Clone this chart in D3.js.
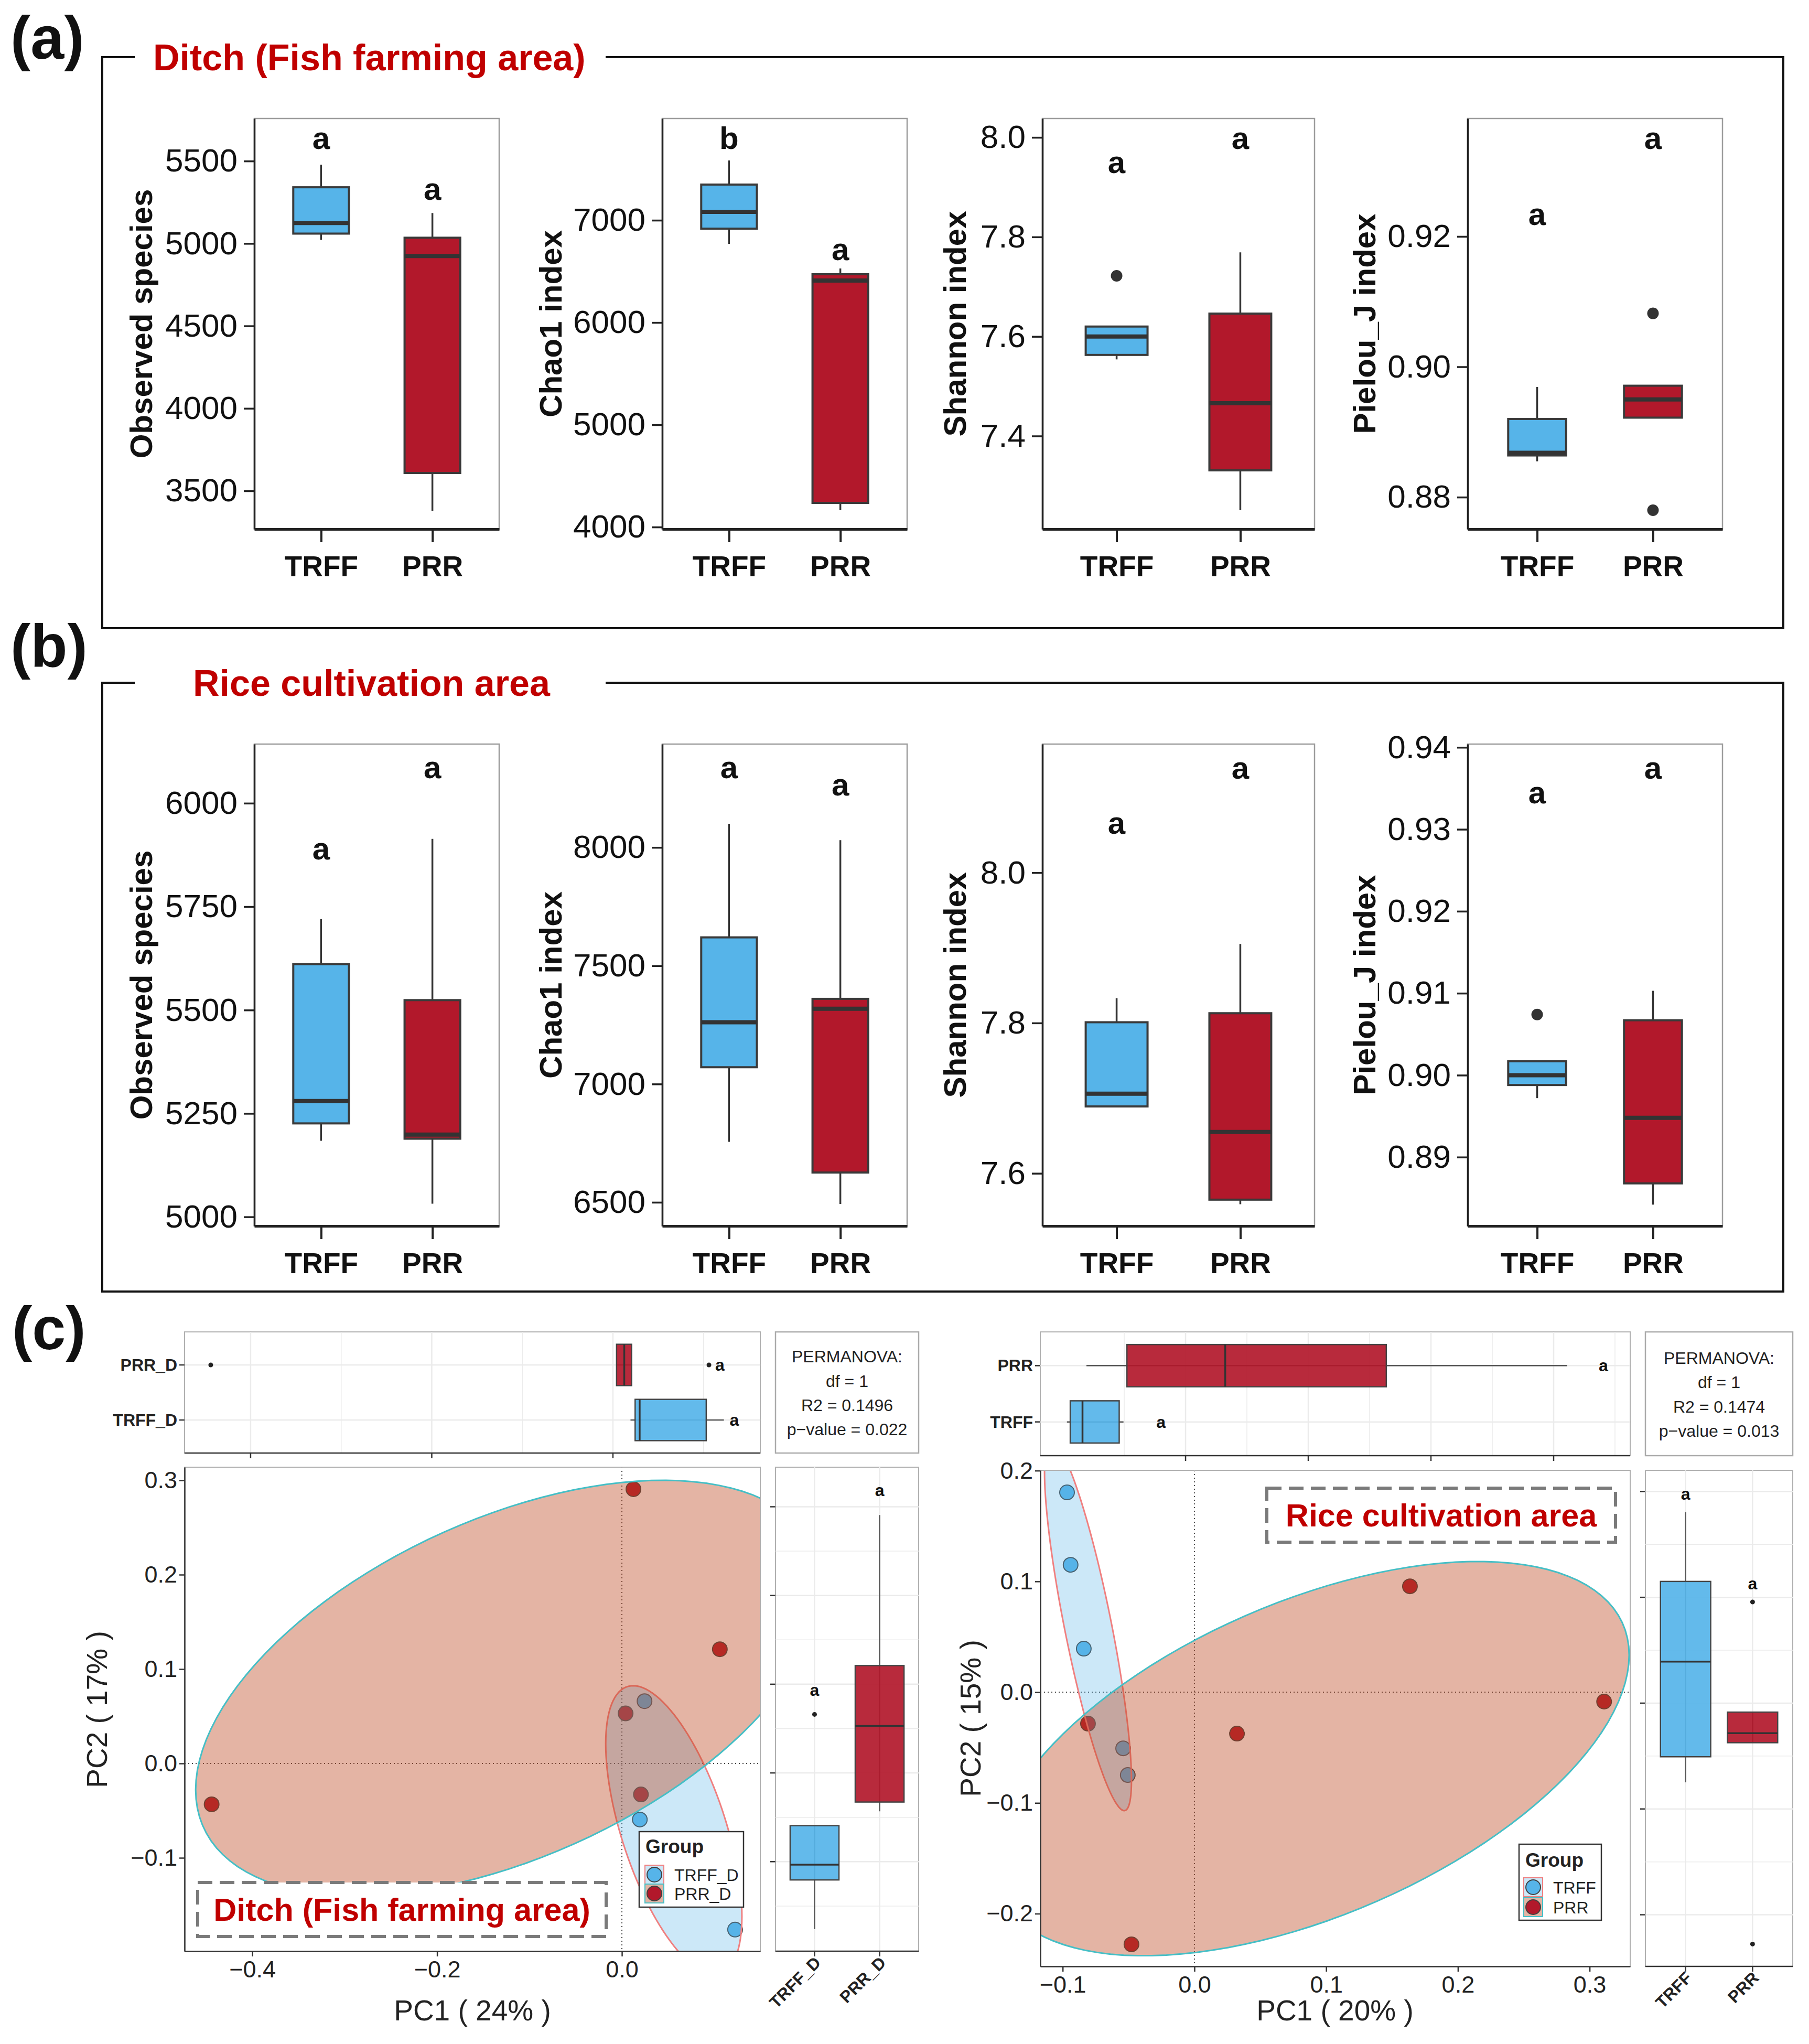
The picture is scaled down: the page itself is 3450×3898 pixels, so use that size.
<!DOCTYPE html>
<html>
<head>
<meta charset="utf-8">
<script src="https://cdn.jsdelivr.net/npm/d3@7"></script>
<style>
  body { margin: 0; background: #fff; }
</style>
</head>
<body>
<div id="chart"></div>
<script>
const groups = ["TRFF", "PRR"];
const alphaTitles = ["Observed species", "Chao1 index", "Shannon index", "Pielou_J index"];
const alphaFormats = ["d", "d", ".1f", ".2f"];

// [lower whisker, Q1, median, Q3, upper whisker]
const ditchTRFF = [[5022, 5060, 5124, 5341, 5478], [6769, 6918, 7082, 7349, 7585], [7.554, 7.563, 7.600, 7.620, 7.620], [0.8855, 0.8864, 0.8868, 0.8920, 0.8969]];
const ditchPRR  = [[3379, 3608, 4924, 5035, 5185], [4164, 4236, 6410, 6472, 6528], [7.251, 7.331, 7.466, 7.646, 7.769], [0.8922, 0.8922, 0.8950, 0.8971, 0.8971]];
const ditchOutTRFF = [[], [], [7.722], []];
const ditchOutPRR  = [[], [], [], [0.9082, 0.8780]];
const ditchLetters = [["a", "a"], ["b", "a"], ["a", "a"], ["a", "a"]];
const ditchLetterY = [[5573, 5264], [7697, 6610], [7.928, 7.977], [0.9218, 0.9334]];
const ditchTicks = [[3500, 4000, 4500, 5000, 5500], [4000, 5000, 6000, 7000], [7.4, 7.6, 7.8, 8.0], [0.88, 0.90, 0.92]];
const ditchDomains = [[3268, 5758], [3980, 7995], [7.213, 8.038], [0.8751, 0.9381]];

const riceTRFF = [[5184, 5226, 5280, 5611, 5720], [6756, 7071, 7261, 7620, 8100], [7.689, 7.689, 7.706, 7.801, 7.833], [0.8972, 0.8988, 0.9000, 0.9017, 0.9017]];
const ricePRR  = [[5032, 5189, 5199, 5524, 5914], [6493, 6626, 7318, 7360, 8031], [7.559, 7.565, 7.655, 7.813, 7.905], [0.8842, 0.8868, 0.8948, 0.9067, 0.9103]];
const riceOutTRFF = [[], [], [], [0.9074]];
const riceOutPRR  = [[], [], [], []];
const riceLetters = [["a", "a"], ["a", "a"], ["a", "a"], ["a", "a"]];
const riceLetterY = [[5864, 6061], [8293, 8220], [8.052, 8.125], [0.9332, 0.9362]];
const riceTicks = [[5000, 5250, 5500, 5750, 6000], [6500, 7000, 7500, 8000], [7.6, 7.8, 8.0], [0.89, 0.90, 0.91, 0.92, 0.93, 0.94]];
const riceDomains = [[4978, 6143], [6400, 8437], [7.530, 8.171], [0.8816, 0.9404]];

// ==== Data: PCA scores ====
const ditchTRFF_pc1 = [0.0245, 0.0194, 0.0295, 0.1030, 0.1225];
const ditchTRFF_pc2 = [0.0660, -0.0594, -0.1034, -0.1206, -0.1760];
const ditchPRR_pc1  = [0.0125, 0.1060, 0.0040, 0.0206, -0.4440];
const ditchPRR_pc2  = [0.2906, 0.1210, 0.0530, -0.0328, -0.0433];
const riceTRFF_pc1 = [-0.0967, -0.0940, -0.0840, -0.0541, -0.0506];
const riceTRFF_pc2 = [0.1804, 0.1150, 0.0393, -0.0507, -0.0748];
const ricePRR_pc1  = [0.1636, 0.3110, 0.0323, -0.0808, -0.0478];
const ricePRR_pc2  = [0.0956, -0.0085, -0.0374, -0.0284, -0.2277];

// confidence ellipses: centre, x/y half extents, correlation
const ditchEllipses = [{ cx: 0.0562, cy: -0.0706, rx: 0.0737, ry: 0.153, r: -0.5976 },
                       { cx: -0.122, cy: 0.080, rx: 0.3393, ry: 0.220, r: 0.4904 }];
const riceEllipses  = [{ cx: -0.0808, cy: 0.0597, rx: 0.0330, ry: 0.1667, r: -0.8343 },
                       { cx: 0.0884, cy: -0.060, rx: 0.2416, ry: 0.178, r: 0.525 }];

const ditchPerm = ["PERMANOVA:", "df = 1", "R2 = 0.1496", "p\u2212value = 0.022"];
const ricePerm  = ["PERMANOVA:", "df = 1", "R2 = 0.1474", "p\u2212value = 0.013"];

// ==== Setup ====
const FONT = '"Liberation Sans", Arial, Helvetica, sans-serif';
const W = 3450, H = 3898;
const blue = "#56B4E9", red = "#B2182B";
const titleRed = "#C00000";

const svg = d3.select("#chart").append("svg")
  .attr("width", W).attr("height", H)
  .attr("font-family", FONT)
  .style("background", "#fff");

function txt(g, x, y, s, size, opts = {}) {
  return g.append("text").attr("x", x).attr("y", y).text(s)
    .attr("font-size", size)
    .attr("font-weight", opts.bold ? "bold" : "normal")
    .attr("text-anchor", opts.anchor || "start")
    .attr("fill", opts.fill || "#111");
}

// ==== Panels (a) and (b): boxplots ====
const alphaCols = [{ x0: 485, x1: 952, off: 195 }, { x0: 1263, x1: 1730, off: 192 },
                   { x0: 1988, x1: 2507, off: 146 }, { x0: 2799, x1: 3285, off: 176 }];
const alphaRows = [{ y0: 226, y1: 1009 }, { y0: 1419, y1: 2338 }];

function drawAlpha(col, row, dom, ticks, fmt, stT, stP, outT, outP, letters, letY) {
  const c = alphaCols[col], rw = alphaRows[row];
  const g = svg.append("g");
  const x = d3.scaleLinear().domain([0.4, 2.6]).range([c.x0, c.x1]);
  const y = d3.scaleLinear().domain(dom).range([rw.y1, rw.y0]);

  g.append("rect").attr("x", c.x0).attr("y", rw.y0)
    .attr("width", c.x1 - c.x0).attr("height", rw.y1 - rw.y0)
    .attr("fill", "none").attr("stroke", "#9c9c9c").attr("stroke-width", 2.5);

  const hw = x(1.25) - x(1);
  [stT, stP].forEach((s, i) => {
    const cx = x(i + 1);
    g.append("line").attr("x1", cx).attr("x2", cx)
      .attr("y1", y(s[0])).attr("y2", y(s[4]))
      .attr("stroke", "#333").attr("stroke-width", 3.5);
    g.append("rect").attr("x", cx - hw).attr("width", 2 * hw)
      .attr("y", y(s[3])).attr("height", Math.max(1, y(s[1]) - y(s[3])))
      .attr("fill", i ? red : blue).attr("stroke", "#3a3a3a").attr("stroke-width", 4);
    g.append("line").attr("x1", cx - hw).attr("x2", cx + hw)
      .attr("y1", y(s[2])).attr("y2", y(s[2]))
      .attr("stroke", "#333").attr("stroke-width", 8);
    [outT, outP][i].forEach(v => {
      g.append("circle").attr("cx", cx).attr("cy", y(v)).attr("r", 11).attr("fill", "#333");
    });
    txt(g, cx, y(letY[i]), letters[i], 60, { bold: true, anchor: "middle" });
  });

  const ya = g.append("g").attr("transform", `translate(${c.x0},0)`)
    .call(d3.axisLeft(y).tickValues(ticks).tickFormat(d3.format(fmt))
      .tickSize(20).tickPadding(12).tickSizeOuter(0));
  ya.attr("font-size", 62).attr("font-family", FONT);
  ya.select(".domain").attr("stroke", "#222").attr("stroke-width", 3.5);
  ya.selectAll(".tick line").attr("stroke", "#222").attr("stroke-width", 3.5);
  ya.selectAll(".tick text").attr("fill", "#111");

  const xa = g.append("g").attr("transform", `translate(0,${rw.y1})`)
    .call(d3.axisBottom(x).tickValues([1, 2]).tickFormat((d, i) => groups[i])
      .tickSize(25).tickPadding(26).tickSizeOuter(0));
  xa.attr("font-size", 55).attr("font-family", FONT).attr("font-weight", "bold");
  xa.select(".domain").attr("stroke", "#222").attr("stroke-width", 5);
  xa.selectAll(".tick line").attr("stroke", "#222").attr("stroke-width", 4);
  xa.selectAll(".tick text").attr("fill", "#111");

  const ty = (rw.y0 + rw.y1) / 2, tx = c.x0 - c.off;
  txt(g, 0, 0, alphaTitles[col], 60, { bold: true, anchor: "middle" })
    .attr("transform", `translate(${tx},${ty}) rotate(-90)`);
}

function frame(y0, y1, title, tx) {
  svg.append("path")
    .attr("d", `M257,${y0} H195 V${y1} H3401 V${y0} H1155`)
    .attr("fill", "none").attr("stroke", "#111").attr("stroke-width", 4);
  txt(svg, tx, y0 + 25, title, 70, { bold: true, fill: titleRed });
}

frame(109, 1198, "Ditch (Fish farming area)", 292);
frame(1302, 2463, "Rice cultivation area", 368);
txt(svg, 20, 112, "(a)", 115, { bold: true });
txt(svg, 20, 1272, "(b)", 115, { bold: true });
txt(svg, 23, 2573, "(c)", 115, { bold: true });

for (let k = 0; k < 4; k++) {
  drawAlpha(k, 0, ditchDomains[k], ditchTicks[k], alphaFormats[k], ditchTRFF[k], ditchPRR[k],
    ditchOutTRFF[k], ditchOutPRR[k], ditchLetters[k], ditchLetterY[k]);
  drawAlpha(k, 1, riceDomains[k], riceTicks[k], alphaFormats[k], riceTRFF[k], ricePRR[k],
    riceOutTRFF[k], riceOutPRR[k], riceLetters[k], riceLetterY[k]);
}

// ==== Panel (c): PCA with marginal boxplots ====
function boxStats(v) {
  const s = v.slice().sort(d3.ascending);
  const q1 = d3.quantile(s, 0.25), med = d3.quantile(s, 0.5), q3 = d3.quantile(s, 0.75);
  const lo = q1 - 1.5 * (q3 - q1), hi = q3 + 1.5 * (q3 - q1);
  const inside = s.filter(d => d >= lo && d <= hi);
  return { q1, med, q3, wlo: d3.min(inside), whi: d3.max(inside), out: s.filter(d => d < lo || d > hi) };
}

function minorTicks(ticks, dom) {
  const st = ticks[1] - ticks[0];
  return d3.range(ticks[0] - st * 2.5, dom[1], st).filter(v => v > dom[0] && v < dom[1]);
}

function ellipsePts(e) {
  const s = Math.sqrt(1 - e.r * e.r);
  return d3.range(0, 361, 3).map(a => {
    const t = a * Math.PI / 180;
    return [e.cx + e.rx * Math.cos(t), e.cy + e.ry * (e.r * Math.cos(t) + s * Math.sin(t))];
  });
}

let clipId = 0;
function drawPCA(p) {
  const m = p.main, tp = p.top, rp = p.right;
  const x = d3.scaleLinear().domain(p.xDom).range([m.x0, m.x1]);
  const y = d3.scaleLinear().domain(p.yDom).range([m.y1, m.y0]);
  const xT = d3.scaleLinear().domain(p.xTopDom).range([m.x0, m.x1]);
  const yR = d3.scaleLinear().domain(p.yRightDom).range([m.y1, m.y0]);
  const cT = d3.scaleLinear().domain([0.4, 2.6]).range([tp.y1, tp.y0]);
  const cR = d3.scaleLinear().domain([0.4, 2.6]).range([rp.x0, rp.x1]);
  const g = svg.append("g");
  const grid = "#ebebeb";

  // --- top marginal panel (PC1)
  g.append("rect").attr("x", m.x0).attr("y", tp.y0).attr("width", m.x1 - m.x0).attr("height", tp.y1 - tp.y0)
    .attr("fill", "#fff").attr("stroke", "#b0b0b0").attr("stroke-width", 2);
  minorTicks(p.topTicks, p.xTopDom).forEach(v => {
    g.append("line").attr("x1", xT(v)).attr("x2", xT(v)).attr("y1", tp.y0).attr("y2", tp.y1)
      .attr("stroke", grid).attr("stroke-width", 1.5);
  });
  p.topTicks.concat([1, 2].map(v => null)).forEach(v => {
    if (v === null) return;
    g.append("line").attr("x1", xT(v)).attr("x2", xT(v)).attr("y1", tp.y0).attr("y2", tp.y1)
      .attr("stroke", grid).attr("stroke-width", 2.5);
  });
  [1, 2].forEach(v => {
    g.append("line").attr("x1", m.x0).attr("x2", m.x1).attr("y1", cT(v)).attr("y2", cT(v))
      .attr("stroke", grid).attr("stroke-width", 2.5);
  });

  // --- right marginal panel (PC2)
  g.append("rect").attr("x", rp.x0).attr("y", m.y0).attr("width", rp.x1 - rp.x0).attr("height", m.y1 - m.y0)
    .attr("fill", "#fff").attr("stroke", "#b0b0b0").attr("stroke-width", 2);
  minorTicks(p.rightTicks, p.yRightDom).forEach(v => {
    g.append("line").attr("x1", rp.x0).attr("x2", rp.x1).attr("y1", yR(v)).attr("y2", yR(v))
      .attr("stroke", grid).attr("stroke-width", 1.5);
  });
  p.rightTicks.forEach(v => {
    g.append("line").attr("x1", rp.x0).attr("x2", rp.x1).attr("y1", yR(v)).attr("y2", yR(v))
      .attr("stroke", grid).attr("stroke-width", 2.5);
  });
  [1, 2].forEach(v => {
    g.append("line").attr("x1", cR(v)).attr("x2", cR(v)).attr("y1", m.y0).attr("y2", m.y1)
      .attr("stroke", grid).attr("stroke-width", 2.5);
  });

  p.groups.forEach((gr, i) => {
    // horizontal box on PC1
    const sx = boxStats(gr.pc1), cy = cT(i + 1), hh = cT(1) - cT(1.375);
    g.append("line").attr("x1", xT(sx.wlo)).attr("x2", xT(sx.whi)).attr("y1", cy).attr("y2", cy)
      .attr("stroke", "#555").attr("stroke-width", 2.5);
    g.append("rect").attr("x", xT(sx.q1)).attr("width", xT(sx.q3) - xT(sx.q1))
      .attr("y", cy - hh).attr("height", 2 * hh)
      .attr("fill", gr.fill).attr("fill-opacity", 0.92).attr("stroke", "#444").attr("stroke-width", 2.5);
    g.append("line").attr("x1", xT(sx.med)).attr("x2", xT(sx.med)).attr("y1", cy - hh).attr("y2", cy + hh)
      .attr("stroke", "#333").attr("stroke-width", 3.5);
    sx.out.forEach(v => g.append("circle").attr("cx", xT(v)).attr("cy", cy).attr("r", 4.5).attr("fill", "#222"));
    txt(g, xT(p.topLetterX[i]), cy + 11, "a", 32, { bold: true, anchor: "middle" });

    // vertical box on PC2
    const sy = boxStats(gr.pc2), cx = cR(i + 1), hw = cR(1.375) - cR(1);
    g.append("line").attr("x1", cx).attr("x2", cx).attr("y1", yR(sy.wlo)).attr("y2", yR(sy.whi))
      .attr("stroke", "#555").attr("stroke-width", 2.5);
    g.append("rect").attr("x", cx - hw).attr("width", 2 * hw)
      .attr("y", yR(sy.q3)).attr("height", yR(sy.q1) - yR(sy.q3))
      .attr("fill", gr.fill).attr("fill-opacity", 0.92).attr("stroke", "#444").attr("stroke-width", 2.5);
    g.append("line").attr("x1", cx - hw).attr("x2", cx + hw).attr("y1", yR(sy.med)).attr("y2", yR(sy.med))
      .attr("stroke", "#333").attr("stroke-width", 3.5);
    sy.out.forEach(v => g.append("circle").attr("cx", cx).attr("cy", yR(v)).attr("r", 4.5).attr("fill", "#222"));
    txt(g, cx, yR(p.rightLetterY[i]) + 11, "a", 32, { bold: true, anchor: "middle" });
  });

  // marginal axes
  g.append("line").attr("x1", m.x0).attr("x2", m.x1).attr("y1", tp.y1).attr("y2", tp.y1)
    .attr("stroke", "#333").attr("stroke-width", 2.5);
  p.topTicks.forEach(v => g.append("line").attr("x1", xT(v)).attr("x2", xT(v))
    .attr("y1", tp.y1).attr("y2", tp.y1 + 10).attr("stroke", "#333").attr("stroke-width", 2.5));
  [1, 2].forEach((v, i) => {
    g.append("line").attr("x1", m.x0 - 10).attr("x2", m.x0).attr("y1", cT(v)).attr("y2", cT(v))
      .attr("stroke", "#333").attr("stroke-width", 2.5);
    txt(g, m.x0 - 14, cT(v) + 11, p.groups[i].name, 32, { bold: true, anchor: "end", fill: "#222" });
  });
  g.append("line").attr("x1", rp.x0).attr("x2", rp.x1).attr("y1", m.y1).attr("y2", m.y1)
    .attr("stroke", "#333").attr("stroke-width", 2.5);
  p.rightTicks.forEach(v => g.append("line").attr("x1", rp.x0 - 10).attr("x2", rp.x0)
    .attr("y1", yR(v)).attr("y2", yR(v)).attr("stroke", "#333").attr("stroke-width", 2.5));
  [1, 2].forEach((v, i) => {
    g.append("line").attr("x1", cR(v)).attr("x2", cR(v)).attr("y1", m.y1).attr("y2", m.y1 + 10)
      .attr("stroke", "#333").attr("stroke-width", 2.5);
    txt(g, 0, 0, p.groups[i].name, 32, { bold: true, anchor: "end", fill: "#222" })
      .attr("transform", `translate(${cR(v) + 14},${m.y1 + 24}) rotate(-45)`);
  });

  // --- PERMANOVA box
  const pb = p.perm;
  g.append("rect").attr("x", rp.x0).attr("y", tp.y0).attr("width", rp.x1 - rp.x0).attr("height", tp.y1 - tp.y0)
    .attr("fill", "#fff").attr("stroke", "#aaa").attr("stroke-width", 2.5);
  pb.lines.forEach((s, i) => txt(g, (rp.x0 + rp.x1) / 2, pb.baselines[i], s, 32, { anchor: "middle", fill: "#222" }));

  // --- main scatter panel
  const cid = "clip" + (clipId++);
  g.append("clipPath").attr("id", cid).append("rect")
    .attr("x", m.x0).attr("y", m.y0).attr("width", m.x1 - m.x0).attr("height", m.y1 - m.y0);
  g.append("rect").attr("x", m.x0).attr("y", m.y0).attr("width", m.x1 - m.x0).attr("height", m.y1 - m.y0)
    .attr("fill", "#fff");
  const inner = g.append("g").attr("clip-path", `url(#${cid})`);
  inner.append("line").attr("x1", x(0)).attr("x2", x(0)).attr("y1", m.y0).attr("y2", m.y1)
    .attr("stroke", "#444").attr("stroke-width", 2).attr("stroke-dasharray", "2,5");
  inner.append("line").attr("x1", m.x0).attr("x2", m.x1).attr("y1", y(0)).attr("y2", y(0))
    .attr("stroke", "#444").attr("stroke-width", 2).attr("stroke-dasharray", "2,5");
  p.groups.forEach(gr => {
    gr.pc1.forEach((v, j) => {
      inner.append("circle").attr("cx", x(v)).attr("cy", y(gr.pc2[j])).attr("r", 14)
        .attr("fill", gr.fill).attr("stroke", "#404040").attr("stroke-width", 2);
    });
  });
  const line = d3.line().x(d => x(d[0])).y(d => y(d[1])).curve(d3.curveLinearClosed);
  p.groups.forEach(gr => {
    inner.append("path").attr("d", line(ellipsePts(gr.ellipse)))
      .attr("fill", gr.ellFill).attr("fill-opacity", gr.ellAlpha)
      .attr("stroke", gr.ellStroke).attr("stroke-width", 3);
  });
  g.append("rect").attr("x", m.x0).attr("y", m.y0).attr("width", m.x1 - m.x0).attr("height", m.y1 - m.y0)
    .attr("fill", "none").attr("stroke", "#b0b0b0").attr("stroke-width", 2);

  const xa = g.append("g").attr("transform", `translate(0,${m.y1})`)
    .call(d3.axisBottom(x).tickValues(p.xTicks).tickFormat(d3.format(".1f")).tickSize(10).tickPadding(8).tickSizeOuter(0));
  const ya = g.append("g").attr("transform", `translate(${m.x0},0)`)
    .call(d3.axisLeft(y).tickValues(p.yTicks).tickFormat(d3.format(".1f")).tickSize(10).tickPadding(4).tickSizeOuter(0));
  [xa, ya].forEach(a => {
    a.attr("font-size", 45).attr("font-family", FONT);
    a.select(".domain").attr("stroke", "#333").attr("stroke-width", 2.5);
    a.selectAll(".tick line").attr("stroke", "#333").attr("stroke-width", 2.5);
    a.selectAll(".tick text").attr("fill", "#222");
  });
  txt(g, p.xTitle.x, p.xTitle.y, p.xTitle.text, 55, { anchor: "middle", fill: "#222" });
  txt(g, 0, 0, p.yTitle.text, 55, { anchor: "middle", fill: "#222" })
    .attr("transform", `translate(${p.yTitle.x},${p.yTitle.y}) rotate(-90)`);

  // --- dashed label box
  const nb = p.note;
  g.append("rect").attr("x", nb.x0).attr("y", nb.y0).attr("width", nb.x1 - nb.x0).attr("height", nb.y1 - nb.y0)
    .attr("fill", "#fff").attr("stroke", "#7a7a7a").attr("stroke-width", 6).attr("stroke-dasharray", "28,14");
  txt(g, (nb.x0 + nb.x1) / 2, nb.baseline, nb.text, 61, { bold: true, anchor: "middle", fill: titleRed });

  // --- legend
  const lg = p.legend;
  g.append("rect").attr("x", lg.x0).attr("y", lg.y0).attr("width", lg.x1 - lg.x0).attr("height", lg.y1 - lg.y0)
    .attr("fill", "#fff").attr("stroke", "#333").attr("stroke-width", 2.5);
  txt(g, lg.x0 + 12, lg.titleY, "Group", 37, { bold: true, fill: "#222" });
  p.groups.forEach((gr, i) => {
    const cy = lg.rows[i];
    g.append("rect").attr("x", lg.keyX - 18).attr("y", cy - 18).attr("width", 36).attr("height", 36)
      .attr("fill", "#fff");
    g.append("rect").attr("x", lg.keyX - 18).attr("y", cy - 18).attr("width", 36).attr("height", 36)
      .attr("fill", gr.ellFill).attr("fill-opacity", gr.ellAlpha)
      .attr("stroke", gr.ellStroke).attr("stroke-width", 2);
    g.append("circle").attr("cx", lg.keyX).attr("cy", cy).attr("r", 14)
      .attr("fill", gr.fill).attr("stroke", "#404040").attr("stroke-width", 2);
    txt(g, lg.labelX, cy + 12, gr.legendName, 32, { fill: "#222" });
  });
}

const blueEll = { ellFill: "#56B4E9", ellAlpha: 0.3, ellStroke: "#F08080" };
const redEll  = { ellFill: "#BC431C", ellAlpha: 0.4, ellStroke: "#45BFC6" };

drawPCA({
  main: { x0: 352, x1: 1450, y0: 2798, y1: 3721 },
  top: { y0: 2540, y1: 2771 },
  right: { x0: 1479, x1: 1752 },
  xDom: [-0.4733, 0.1498], yDom: [-0.1989, 0.3139],
  xTopDom: [-0.4729, 0.1627], yRightDom: [-0.2009, 0.3446],
  xTicks: [-0.4, -0.2, 0.0], yTicks: [-0.1, 0.0, 0.1, 0.2, 0.3],
  topTicks: [-0.4, -0.2, 0.0], rightTicks: [-0.1, 0.0, 0.1, 0.2, 0.3],
  topLetterX: [0.134, 0.118], rightLetterY: [0.0934, 0.3186],
  groups: [
    Object.assign({ name: "TRFF_D", legendName: "TRFF_D", pc1: ditchTRFF_pc1, pc2: ditchTRFF_pc2, fill: blue, ellipse: ditchEllipses[0] }, blueEll),
    Object.assign({ name: "PRR_D", legendName: "PRR_D", pc1: ditchPRR_pc1, pc2: ditchPRR_pc2, fill: red, ellipse: ditchEllipses[1] }, redEll)
  ],
  perm: { lines: ditchPerm, baselines: [2598, 2645, 2691, 2737] },
  note: { x0: 377, y0: 3590, x1: 1156, y1: 3693, text: "Ditch (Fish farming area)", baseline: 3663 },
  legend: { x0: 1219, y0: 3493, x1: 1418, y1: 3637, titleY: 3534, rows: [3575, 3611], keyX: 1248, labelX: 1286 },
  xTitle: { x: 901, y: 3853, text: "PC1 ( 24% )" },
  yTitle: { x: 204, y: 3260, text: "PC2 ( 17% )" }
});

drawPCA({
  main: { x0: 1984, x1: 3109, y0: 2804, y1: 3750 },
  top: { y0: 2540, y1: 2776 },
  right: { x0: 3138, x1: 3419 },
  xDom: [-0.117, 0.3308], yDom: [-0.2476, 0.2003],
  xTopDom: [-0.1184, 0.3624], yRightDom: [-0.2488, 0.22],
  xTicks: [-0.1, 0.0, 0.1, 0.2, 0.3], yTicks: [-0.2, -0.1, 0.0, 0.1, 0.2],
  topTicks: [0.0, 0.1, 0.2, 0.3], rightTicks: [-0.2, -0.1, 0.0, 0.1, 0.2],
  topLetterX: [-0.020, 0.3406], rightLetterY: [0.1977, 0.113],
  groups: [
    Object.assign({ name: "TRFF", legendName: "TRFF", pc1: riceTRFF_pc1, pc2: riceTRFF_pc2, fill: blue, ellipse: riceEllipses[0] }, blueEll),
    Object.assign({ name: "PRR", legendName: "PRR", pc1: ricePRR_pc1, pc2: ricePRR_pc2, fill: red, ellipse: riceEllipses[1] }, redEll)
  ],
  perm: { lines: ricePerm, baselines: [2601, 2647, 2694, 2740] },
  note: { x0: 2416, y0: 2838, x1: 3081, y1: 2941, text: "Rice cultivation area", baseline: 2911 },
  legend: { x0: 2897, y0: 3517, x1: 3054, y1: 3662, titleY: 3560, rows: [3599, 3637], keyX: 2924, labelX: 2962 },
  xTitle: { x: 2546, y: 3853, text: "PC1 ( 20% )" },
  yTitle: { x: 1870, y: 3277, text: "PC2 ( 15% )" }
});
</script>
</body>
</html>
